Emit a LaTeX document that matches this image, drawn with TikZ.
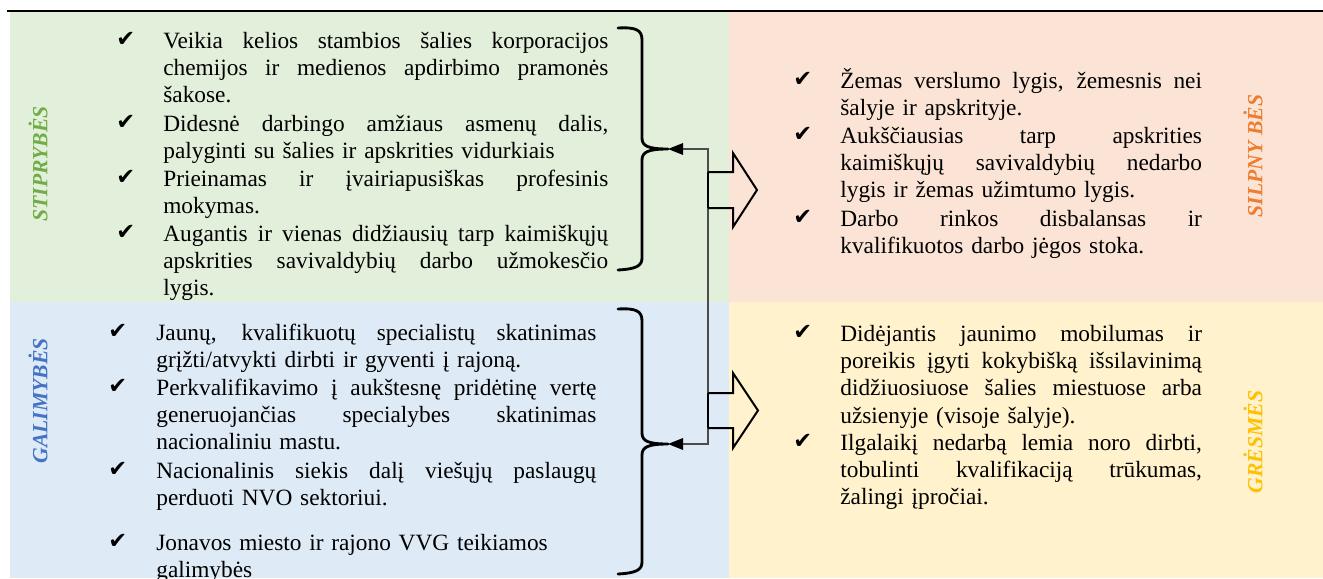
\documentclass[tikz,border=0pt]{standalone}
\usepackage{fontspec}
\setmainfont{Liberation Serif}
\newfontfamily\dv{DejaVu Sans}
\usetikzlibrary{arrows.meta}
\definecolor{gbg}{HTML}{E2EFDA}
\definecolor{pbg}{HTML}{FBE4D5}
\definecolor{bbg}{HTML}{DEEAF6}
\definecolor{ybg}{HTML}{FFF2CC}
\definecolor{gtx}{HTML}{70AD47}
\definecolor{otx}{HTML}{ED7D31}
\definecolor{btx}{HTML}{4472C4}
\definecolor{ytx}{HTML}{FFC000}
\newcommand\jla[1]{\makebox[267pt][s]{\spaceskip=0pt\xspaceskip=0pt #1}}
\newcommand\jlb[1]{\makebox[264pt][s]{\spaceskip=0pt\xspaceskip=0pt #1}}
\newcommand\jlc[1]{\makebox[217pt][s]{\spaceskip=0pt\xspaceskip=0pt #1}}
\begin{document}
\begin{tikzpicture}[x=0.6pt,y=-0.6pt,
  txt/.style={anchor=base west, inner sep=0pt, text width=#1, align=left,
    font=\fontsize{14}{16.4}\selectfont},
  chk/.style={anchor=base west, inner sep=0pt, font=\dv\fontsize{13.5}{15}\selectfont},
  lab/.style={rotate=90, inner sep=0pt, font=\fontsize{13}{15}\selectfont\bfseries\itshape},
  brace/.style={line width=1.7pt, line cap=round, line join=round},
  conn/.style={draw=black!70, line width=0.7pt, {Triangle[length=9pt,width=7pt,color=black]}-{Triangle[length=9pt,width=7pt,color=black]}},
  blk/.style={draw=black, line width=1.2pt, line join=miter}]
\path[use as bounding box] (0,0) rectangle (1323,578);
% backgrounds
\fill[gbg] (10,12) rectangle (729,301.5);
\fill[pbg] (729,12) rectangle (1323,301.5);
\fill[bbg] (10,301.5) rectangle (729,578);
\fill[ybg] (729,301.5) rectangle (1323,578);
\draw[line width=1.2pt] (7,10.5) -- (1323,10.5);
% labels
\node[lab, text=gtx] (lS) at (38,164) {STIPRYBĖS};
\node[lab, text=btx] (lO) at (38,401) {GALIMYBĖS};
\node[lab, text=otx] (lW) at (1253,156) {SILPNY BĖS};
\node[lab, text=ytx] (lT) at (1253,442) {GRĖSMĖS};
% strengths
\node[chk] (cs1) at (116,46) {✔};
\node[txt=267pt] (s1) at (163,48) {\jla{Veikia kelios stambios šalies korporacijos}\\\jla{chemijos ir medienos apdirbimo pramonės}\\šakose.};
\node[chk] (cs2) at (116,129) {✔};
\node[txt=267pt] (s2) at (163,131) {\jla{Didesnė darbingo amžiaus asmenų dalis,}\\palyginti su šalies ir apskrities vidurkiais};
\node[chk] (cs3) at (116,184) {✔};
\node[txt=267pt] (s3) at (163,186) {\jla{Prieinamas ir įvairiapusiškas profesinis}\\mokymas.};
\node[chk] (cs4) at (116,239) {✔};
\node[txt=267pt] (s4) at (163,241) {\jla{Augantis ir vienas didžiausių tarp kaimiškųjų}\\\jla{apskrities savivaldybių darbo užmokesčio}\\lygis.};
% opportunities
\node[chk] (co1) at (108,338) {✔};
\node[txt=264pt] (o1) at (156,340) {\jlb{Jaunų, kvalifikuotų specialistų skatinimas}\\grįžti/atvykti dirbti ir gyventi į rajoną.};
\node[chk] (co2) at (108,393) {✔};
\node[txt=264pt] (o2) at (156,395) {\jlb{Perkvalifikavimo į aukštesnę pridėtinę vertę}\\\jlb{generuojančias specialybes skatinimas}\\nacionaliniu mastu.};
\node[chk] (co3) at (108,476) {✔};
\node[txt=264pt] (o3) at (156,478) {\jlb{Nacionalinis siekis dalį viešųjų paslaugų}\\perduoti NVO sektoriui.};
\node[chk] (co4) at (108,548) {✔};
\node[txt=264pt] (o4) at (156,550) {Jonavos miesto ir rajono VVG teikiamos\\galimybės};
% weaknesses
\node[chk] (cw1) at (793,86.5) {✔};
\node[txt=217pt] (w1) at (840,88.5) {\jlc{Žemas verslumo lygis, žemesnis nei}\\šalyje ir apskrityje.};
\node[chk] (cw2) at (793,141) {✔};
\node[txt=217pt] (w2) at (840,143) {\jlc{Aukščiausias tarp apskrities}\\\jlc{kaimiškųjų savivaldybių nedarbo}\\lygis ir žemas užimtumo lygis.};
\node[chk] (cw3) at (793,224) {✔};
\node[txt=217pt] (w3) at (840,226) {\jlc{Darbo rinkos disbalansas ir}\\kvalifikuotos darbo jėgos stoka.};
% threats
\node[chk] (ct1) at (793,339) {✔};
\node[txt=217pt] (t1) at (840,341) {\jlc{Didėjantis jaunimo mobilumas ir}\\\jlc{poreikis įgyti kokybišką išsilavinimą}\\\jlc{didžiuosiuose šalies miestuose arba}\\užsienyje (visoje šalyje).};
\node[chk] (ct2) at (793,448) {✔};
\node[txt=217pt] (t2) at (840,450) {\jlc{Ilgalaikį nedarbą lemia noro dirbti,}\\\jlc{tobulinti kvalifikaciją trūkumas,}\\žalingi įpročiai.};
% braces
\coordinate (b1) at (668,149);
\coordinate (b2) at (668,444);
\draw[brace] (618,28) .. controls (636,27) and (642,30) .. (642,40) -- (642,138)
  .. controls (642,146) and (648,149) .. (b1)
  .. controls (648,149) and (642,152) .. (642,160) -- (642,258)
  .. controls (642,266) and (636,269) .. (618,270);
\draw[brace] (618,309) .. controls (636,308) and (642,311) .. (642,321) -- (642,433)
  .. controls (642,441) and (648,444) .. (b2)
  .. controls (648,444) and (642,447) .. (642,455) -- (642,562)
  .. controls (642,570) and (636,573) .. (618,574);
% connector
\coordinate (k1) at (708,149);
\coordinate (k2) at (708,444);
\draw[conn] (b1) -- (k1) -- (k2) -- (b2);
% block arrows
\draw[blk] (708,172) -- (733,172) -- (733,153) -- (757,190) -- (733,227) -- (733,208) -- (708,208);
\draw[blk] (708,393) -- (733,393) -- (733,373) -- (758,410.5) -- (733,448) -- (733,428) -- (708,428);
\draw[blk] (708,172) -- (708,208);
\draw[blk] (708,393) -- (708,428);
\end{tikzpicture}
\end{document}
